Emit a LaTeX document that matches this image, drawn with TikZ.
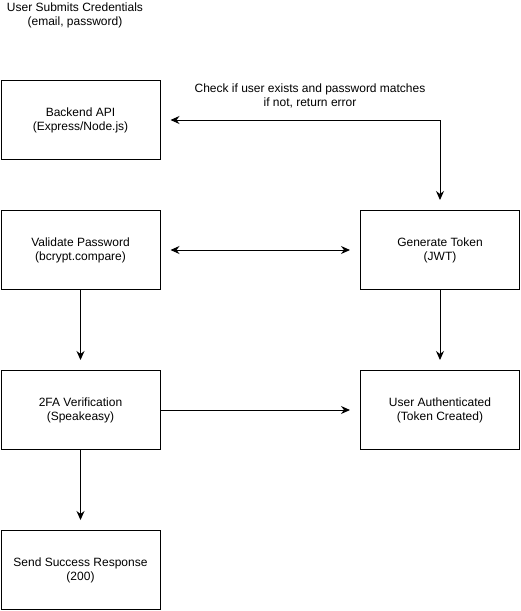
\documentclass[tikz,border=0pt]{standalone}
\usepackage{fontspec}
\setmainfont{Liberation Sans}
\usetikzlibrary{arrows.meta}
\begin{document}
\begin{tikzpicture}[x=1pt,y=-1pt,line width=1pt,
  font=\fontsize{12}{14}\selectfont,
  box/.style={draw,minimum width=159pt,minimum height=79pt,align=center,inner sep=0pt},
  txt/.style={align=center,inner sep=0pt},
  link/.style={-{Stealth[length=9pt,width=8pt,inset=3pt]},shorten >=10pt},
  twolink/.style={{Stealth[length=9pt,width=8pt,inset=3pt]}-{Stealth[length=9pt,width=8pt,inset=3pt]},shorten >=10pt,shorten <=10pt}]
\useasboundingbox (0,0) rectangle (521,611);

\node [txt] (submit) at (75,15) {User Submits Credentials\\(email, password)};
\node [txt] (checklabel) at (310,96) {Check if user exists and password matches\\if not, return error};

\node [box] (backend) at (80.5,120) {Backend API\\(Express/Node.js)};
\node [box] (validate) at (80.5,250) {Validate Password\\(bcrypt.compare)};
\node [box] (twofa) at (80.5,410) {2FA Verification\\(Speakeasy)};
\node [box] (success) at (80.5,570) {Send Success Response\\(200)};
\node [box] (token) at (440,250) {Generate Token\\(JWT)};
\node [box] (authd) at (440,410) {User Authenticated\\(Token Created)};

\draw [twolink] (backend.east) -| (token.north);
\draw [twolink] (validate) -- (token);
\draw [link] (validate) -- (twofa);
\draw [link] (token) -- (authd);
\draw [link] (twofa) -- (authd);
\draw [link] (twofa) -- (success);
\end{tikzpicture}
\end{document}
